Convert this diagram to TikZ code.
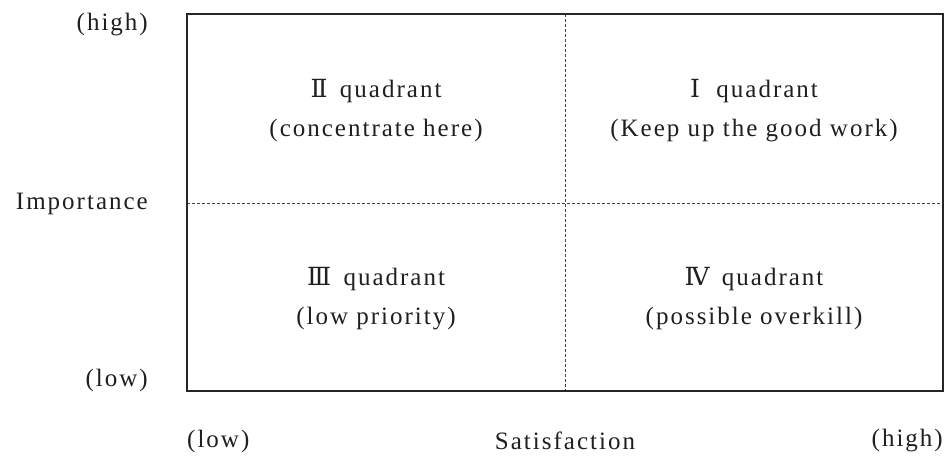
\documentclass[tikz,border=0pt]{standalone}
\usepackage{fontspec}
\setmainfont{Liberation Serif}[LetterSpace=8]
\newfontfamily\numfont{DejaVu Serif}
\begin{document}
\begin{tikzpicture}[x=1pt,y=-1pt,
  lbl/.style={font=\fontsize{25}{31}\selectfont, inner sep=0pt, align=center, text=black!88},
  quadtxt/.style={lbl},
  frame/.style={line width=2pt, black!85},
  divider/.style={line width=1pt, black!75, dash pattern=on 3pt off 2pt}]
\useasboundingbox (0,0) rectangle (945,456);
\coordinate (tl) at (187,14);
\coordinate (br) at (943,391);
\coordinate (vt) at (565,14);
\coordinate (vb) at (565,391);
\coordinate (hl) at (187,203);
\coordinate (hr) at (943,203);
\draw[divider] (vt) -- (vb);
\draw[divider] (hl) -- (hr);
\draw[frame] (tl) rectangle (br);
\node[quadtxt] (q2) at (376,111) {{\numfont Ⅱ}\, quadrant\\[8pt](concentrate here)};
\node[quadtxt] (q1) at (754,111) {{\numfont Ⅰ}\ \ quadrant\\[8pt](Keep up the good work)};
\node[quadtxt] (q3) at (376,299) {{\numfont Ⅲ}\, quadrant\\[8pt](low priority)};
\node[quadtxt] (q4) at (754,299) {{\numfont Ⅳ}\, quadrant\\[8pt](possible overkill)};
\node[lbl, anchor=east] (ihigh) at (148,25) {(high)};
\node[lbl, anchor=east] (imp) at (148,204) {Importance};
\node[lbl, anchor=east] (ilow) at (148,380) {(low)};
\node[lbl, anchor=west] (slow) at (187,441) {(low)};
\node[lbl] (sat) at (565,441) {Satisfaction};
\node[lbl, anchor=east] (shigh) at (943,441) {(high)};
\end{tikzpicture}
\end{document}
